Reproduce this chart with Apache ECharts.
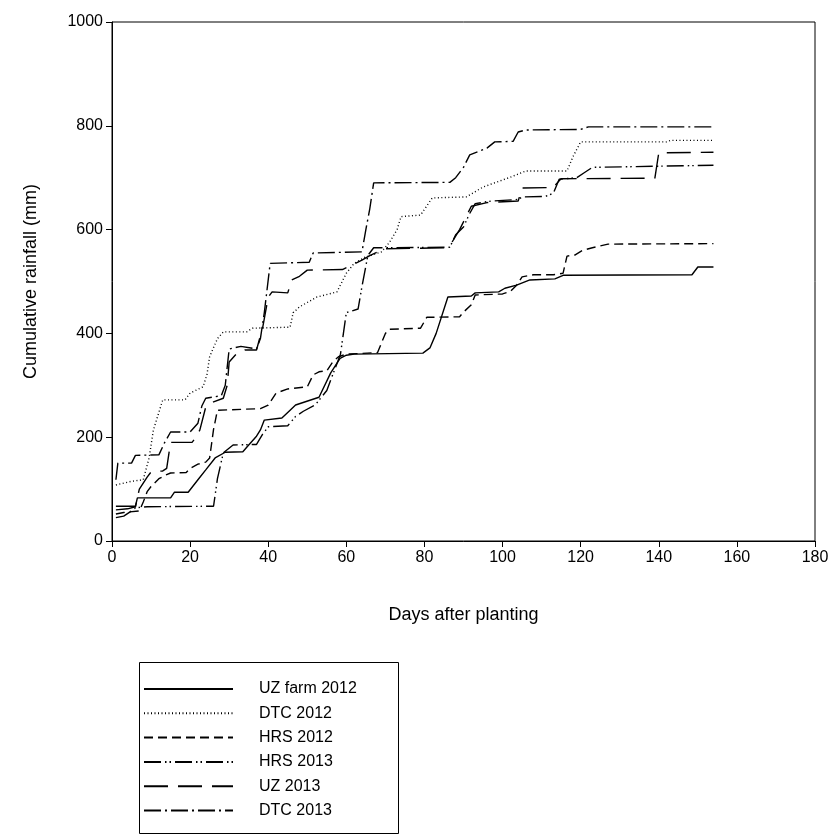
<!DOCTYPE html>
<html><head><meta charset="utf-8">
<script src="https://cdn.jsdelivr.net/npm/echarts@6/dist/echarts.min.js"></script>
<style>html,body{margin:0;padding:0;background:#fff}#c{width:832px;height:838px}</style>
</head><body><div id="c"></div>
<script>
const xTicks = [0,20,40,60,80,100,120,140,160,180];
const yTicks = [0,200,400,600,800,1000];
const seriesNames = ['UZ farm 2012','DTC 2012','HRS 2012','HRS 2013','UZ 2013','DTC 2013'];

// [day, cumulative mm]
const uzFarm2012 = [[1,67],[6,67],[6.5,83],[15,83],[16,94],[19.5,94],[22,118],[24,137],[26.4,160],[29,171],[33.5,172],[35,185],[37,202],[38,214],[39,233],[43.5,237],[45.6,252],[47,262],[53,277],[56,324],[58.4,352],[60,358],[62,360],[79.6,362],[81.4,372],[83,400],[86,470],[92,472],[93,478],[99,480],[100.6,487],[103.6,493],[107,503],[113.4,505],[115.5,512],[148.5,513],[150,528],[154,528]];
const dtc2012 = [[1,108],[5,115],[8,118],[9.5,160],[10.6,214],[13,272],[18.7,272],[20,285],[23.3,297],[24.3,320],[25,355],[27,390],[28.5,403],[34.5,403],[36,410],[45.6,412],[46.4,440],[48,451],[52.4,470],[57.6,480],[60,516],[62,535],[64.8,547],[69,557],[71,575],[73,600],[74,625],[79,628],[82,661],[90.7,663],[95,682],[102,701],[106,713],[116.5,713],[118,740],[120,769],[142,769],[143,772],[154,772]];
const hrs2012 = [[1,52],[3,55],[7,58],[8,75],[9,95],[10,105],[12,120],[14,128],[15,131],[19,132],[20,140],[22,148],[24,152],[25,160],[26,215],[27,252],[38,255],[40,262],[42,285],[45,293],[50,297],[51.5,320],[53,326],[55,328],[56.5,345],[58,355],[60,360],[68,363],[70,400],[71,408],[79,410],[80.6,431],[89,432],[90,441],[92,455],[93,474],[100,476],[102,481],[103.6,493],[105,509],[108,513],[113,513],[115.5,516],[116.5,549],[118.5,551],[120.5,560],[123,565],[127,572],[154,573]];
const hrs2013 = [[1,45],[3,48],[5,58],[6,64],[9,66],[26,67],[27,120],[28.5,170],[31,185],[37,186],[38.5,205],[40,220],[45,222],[47,240],[49,250],[52,262],[55,290],[57,330],[58.5,360],[60,440],[63,447],[64,490],[65.5,550],[67,565],[86.5,566],[88,590],[90,605],[91.5,630],[93,650],[97,655],[104,658],[105,663],[111,664],[113,670],[114.5,697],[119,700],[121,710],[123,720],[139,722],[154,724]];
const uz2013 = [[1,60],[4,62],[6,66],[7,100],[9,123],[10,133],[13,135],[14,140],[15,190],[20.5,190],[21.5,200],[22.5,214],[24,258],[26,268],[28.5,275],[29.5,300],[30,345],[32,362],[34,368],[37,368],[38.6,412],[40,470],[41,480],[45,478],[46,503],[48,510],[50,522],[59,523],[61,530],[64,541],[66,550],[68,557],[70,563],[85,565],[87,575],[89,600],[91,630],[92,645],[96,652],[104,655],[105,680],[113,681],[114,690],[115,698],[139,699],[140,748],[154,749]];
const dtc2013 = [[1,118],[1.5,150],[5,150],[6,165],[12,166],[13.5,190],[15,210],[20,210],[22,227],[23,260],[24,275],[28,280],[29,300],[30,370],[33,375],[37,370],[38,390],[39,440],[40.5,535],[50.5,537],[51.5,555],[64,557],[65,600],[66,640],[67,690],[86.5,691],[88,700],[90,720],[91.6,744],[96,757],[98,769],[102.7,770],[104,788],[106,792],[120,793],[122,798],[154,798]];

const dataSets = [uzFarm2012, dtc2012, hrs2012, hrs2013, uz2013, dtc2013];
const dashes = ['solid', [1,2.5], [9,5], [17,4,1.5,3,1.5,4], [24,10], [17,4,2,4]];

const chart = echarts.init(document.getElementById('c'), null, {renderer:'canvas'});
const font = 'Arial, "Liberation Sans", sans-serif';
chart.setOption({
  animation:false,
  backgroundColor:'#fff',
  grid:{left:112, right:17, top:22, bottom:297, show:true, borderColor:'#000', borderWidth:1},
  xAxis:{type:'value', min:0, max:180, interval:20,
    name:'Days after planting', nameLocation:'middle', nameGap:65,
    nameTextStyle:{fontFamily:font, fontSize:18, color:'#000'},
    axisLine:{lineStyle:{color:'#000', width:1}}, axisTick:{length:6, lineStyle:{color:'#000'}},
    axisLabel:{fontFamily:font, fontSize:16, color:'#000', margin:9}, splitLine:{show:false}},
  yAxis:{type:'value', min:0, max:1000, interval:200,
    name:'Cumulative rainfall (mm)', nameLocation:'middle', nameGap:72,
    nameTextStyle:{fontFamily:font, fontSize:18, color:'#000'},
    axisLine:{show:true, lineStyle:{color:'#000', width:1}}, axisTick:{show:true, length:6, lineStyle:{color:'#000'}},
    axisLabel:{fontFamily:font, fontSize:16, color:'#000', margin:9, formatter:(v)=>String(v)}, splitLine:{show:false}},
  legend:{orient:'vertical', left:143, top:681, padding:0, itemWidth:89, itemHeight:16, itemGap:8.3,
    data:seriesNames, itemStyle:{opacity:0},
    textStyle:{fontFamily:font, fontSize:16, color:'#000', padding:[0,0,0,21]}},
  graphic:[{type:'rect', shape:{x:139.5, y:662.5, width:259, height:171}, style:{fill:'none', stroke:'#000', lineWidth:1}}],
  series: dataSets.map((d,i)=>({
    name:seriesNames[i], type:'line', data:d, symbol:'none', showSymbol:false,
    lineStyle:{color:'#000', width:1.4, type:dashes[i]}, itemStyle:{color:'#000'}
  }))
});
</script></body></html>
